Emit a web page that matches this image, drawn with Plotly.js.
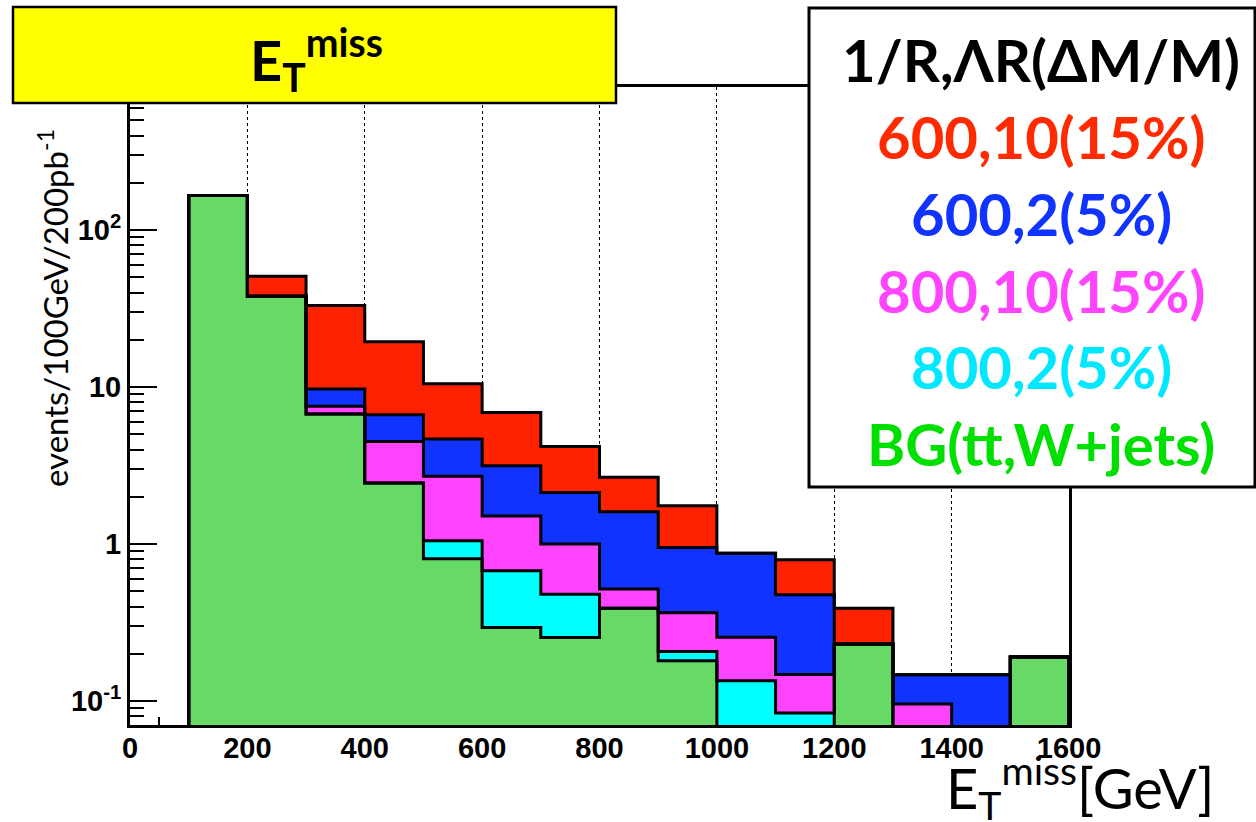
<!DOCTYPE html>
<html>
<head>
<meta charset="utf-8">
<script src="https://cdn.plot.ly/plotly-3.0.1.min.js"></script>
<style>
  html, body { margin: 0; padding: 0; background: #ffffff; }
  #chart { width: 1256px; height: 822px; }
</style>
</head>
<body>
<div id="chart"></div>
<script>
// ---- data ----
const binEdges = [0, 100, 200, 300, 400, 500, 600, 700, 800, 900, 1000, 1100, 1200, 1300, 1400, 1500, 1600];

// per-series contributions per 100 GeV bin (stacked: BG at bottom)
const bgTtWjets   = [0, 166, 37.9, 6.74, 2.45, 0.806, 0.294, 0.254, 0.391, 0.181, 0, 0, 0.231, 0, 0, 0.191];
const sig800_2    = [0, 0, 0, 0, 0, 0.244, 0.382, 0.226, 0, 0.026, 0.135, 0.084, 0, 0, 0, 0];
const sig800_10   = [0, 0, 0, 0.80, 2.06, 1.65, 0.834, 0.52, 0.126, 0.159, 0.120, 0.064, 0, 0.096, 0, 0];
const sig600_2    = [0, 0, 0, 2.18, 2.16, 1.97, 1.65, 1.13, 1.09, 0.586, 0.621, 0.327, 0, 0.051, 0.147, 0];
const sig600_10   = [0, 0, 12.9, 23.3, 12.8, 5.83, 3.74, 2.06, 1.06, 0.80, 0, 0.319, 0.16, 0, 0, 0];

const legendHeader = '1/R,ΛR(ΔM/M)';
const seriesNames  = ['600,10(15%)', '600,2(5%)', '800,10(15%)', '800,2(5%)', 'BG(tt,W+jets)'];
const xTickVals = [0, 200, 400, 600, 800, 1000, 1200, 1400, 1600];
const yTickVals = [0.1, 1, 10, 100];
const yTickText = ['10<sup>-1</sup>', '1', '10', '10<sup>2</sup>'];
const yMinorVals = [0.08, 0.09, 0.2, 0.3, 0.4, 0.5, 0.6, 0.7, 0.8, 0.9, 2, 3, 4, 5, 6, 7, 8, 9,
                    20, 30, 40, 50, 60, 70, 80, 90, 200, 300, 400, 500, 600, 700, 800];

// ---- styling ----
const fillColors = ['#ff2200', '#1133ff', '#ff44ff', '#00ffff', '#66d966'];
const textColors = ['#ff2a00', '#1133ff', '#ff44ff', '#00e8ff', '#00e000'];

// stack (bottom -> top): BG, 800_2, 800_10, 600_2, 600_10
const stackOrder = [bgTtWjets, sig800_2, sig800_10, sig600_2, sig600_10];
const cum = [];
let run = bgTtWjets.map(() => 0);
stackOrder.forEach(s => { run = run.map((v, i) => v + s[i]); cum.push(run.slice()); });
const tops = [cum[4], cum[3], cum[2], cum[1], cum[0]]; // same order as seriesNames / colors

const centers = binEdges.slice(0, -1).map((e, i) => (e + binEdges[i + 1]) / 2);
const widths = binEdges.slice(0, -1).map((e, i) => binEdges[i + 1] - e);
const FLOOR = 1e-3;

const traces = [];
tops.forEach((t, k) => {
  traces.push({
    type: 'bar', x: centers, y: t.map(v => v > 0 ? v : null), width: widths,
    marker: { color: fillColors[k], line: { width: 0 } },
    hoverinfo: 'skip', showlegend: false
  });
});
tops.forEach((t, k) => {
  const xs = [binEdges[0]], ys = [FLOOR];
  t.forEach((v, i) => { xs.push(binEdges[i]); ys.push(v > 0 ? v : FLOOR); });
  xs.push(binEdges[binEdges.length - 1]); ys.push(FLOOR);
  traces.push({
    type: 'scatter', mode: 'lines', x: xs, y: ys,
    line: { shape: 'hv', color: '#000000', width: 3 },
    hoverinfo: 'skip', showlegend: false
  });
});

// plot area in pixels
const L = 130, R = 187, T = 87, B = 97, W = 1256, H = 822;
const PW = W - L - R, PH = H - T - B;
const px = x => (x - L) / PW;
const py = y => (H - B - y) / PH;

const sans = 'Lato, "Open Sans", sans-serif';
const annotations = [];
annotations.push({
  xref: 'paper', yref: 'paper', x: px(316), y: py(59), xanchor: 'center', yanchor: 'middle',
  text: 'E<sub>T</sub><sup>miss</sup>', showarrow: false,
  font: { family: sans, size: 56, color: '#000000', weight: 'bold' }
});
const legendLines = [legendHeader].concat(seriesNames);
const legendColors = ['#000000'].concat(textColors);
const legendBase = [82, 158, 235, 312, 388, 465];
legendLines.forEach((s, i) => {
  annotations.push({
    xref: 'paper', yref: 'paper', x: px(1041), y: py(legendBase[i] - 22),
    xanchor: 'center', yanchor: 'middle', text: s, showarrow: false,
    font: { family: sans, size: 58, color: legendColors[i], weight: 'bold' }
  });
});
annotations.push({
  xref: 'paper', yref: 'paper', x: px(944), y: py(787), xanchor: 'left', yanchor: 'middle',
  text: 'E<sub>T</sub><sup>miss</sup>[GeV]', showarrow: false,
  font: { family: sans, size: 56, color: '#000000' }
});
annotations.push({
  xref: 'paper', yref: 'paper', x: px(53), y: py(308), xanchor: 'center', yanchor: 'middle',
  textangle: -90, text: 'events/100GeV/200pb<sup>-1</sup>', showarrow: false,
  font: { family: sans, size: 33, color: '#000000' }
});

const shapes = [
  { type: 'rect', xref: 'paper', yref: 'paper', x0: px(13), x1: px(616), y0: py(103), y1: py(7),
    fillcolor: '#ffff00', line: { color: '#000000', width: 2.5 }, layer: 'above' },
  { type: 'rect', xref: 'paper', yref: 'paper', x0: px(809), x1: px(1255), y0: py(487), y1: py(8),
    fillcolor: '#ffffff', line: { color: '#000000', width: 3 }, layer: 'above' }
];

const tickFont = { family: '"Liberation Sans", Arial, sans-serif', size: 29, color: '#000000', weight: 'bold' };

const layout = {
  width: W, height: H,
  margin: { l: L, r: R, t: T, b: B, pad: 0 },
  paper_bgcolor: '#ffffff', plot_bgcolor: '#ffffff',
  barmode: 'overlay', bargap: 0, showlegend: false,
  xaxis: {
    range: [0, 1600], tickmode: 'array', tickvals: xTickVals,
    ticks: 'inside', ticklen: 16, tickwidth: 2, tickcolor: '#000000',
    showgrid: true, gridcolor: '#000000', gridwidth: 1, griddash: 'dot',
    showline: true, linecolor: '#000000', linewidth: 3, mirror: true,
    zeroline: false, layer: 'below traces', tickfont: tickFont, ticklabelstandoff: -5,
    minor: { dtick: 50, ticks: 'inside', ticklen: 8, tickwidth: 2, tickcolor: '#000000', showgrid: false }
  },
  yaxis: {
    type: 'log', range: [-1.152, 2.911], tickmode: 'array', tickvals: yTickVals, ticktext: yTickText,
    ticks: 'inside', ticklen: 27, tickwidth: 2, tickcolor: '#000000',
    showgrid: false, showline: true, linecolor: '#000000', linewidth: 3, mirror: true,
    zeroline: false, tickfont: tickFont,
    minor: { tickmode: 'array', tickvals: yMinorVals, ticks: 'inside', ticklen: 14, tickwidth: 2, tickcolor: '#000000', showgrid: false }
  },
  shapes: shapes,
  annotations: annotations
};

Plotly.newPlot('chart', traces, layout, { displayModeBar: false, staticPlot: true });
</script>
</body>
</html>
